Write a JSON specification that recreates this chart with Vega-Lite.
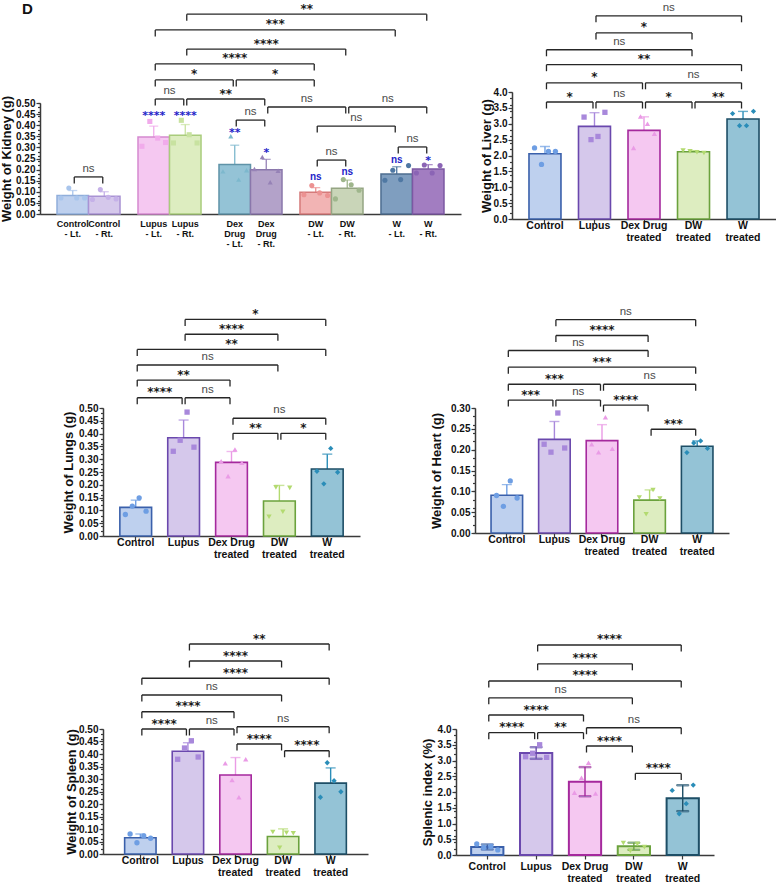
{
  "$schema": "https://vega.github.io/schema/vega-lite/v6.json",
  "background": "white",
  "padding": {"left": 0, "top": 0, "right": 0, "bottom": 0},
  "config": {
    "view": {"stroke": null},
    "font": "Liberation Sans",
    "axis": {
      "grid": false,
      "domainColor": "#3a3a3a",
      "domainWidth": 1.5,
      "tickColor": "#3a3a3a",
      "tickWidth": 1.2,
      "labelFont": "Liberation Sans",
      "labelFontWeight": "bold",
      "labelColor": "#111111",
      "titleFont": "Liberation Sans",
      "titleFontWeight": "bold",
      "titleColor": "#111111"
    },
    "axisY": {"tickSize": 4, "labelFontSize": 10, "labelPadding": 1, "titleFontSize": 13},
    "axisX": {"tickSize": 4, "labelFontSize": 10.5, "labelPadding": 2, "labelLineHeight": 12.5, "labelAlign": "center"}
  },
  "datasets": {
    "kidney": [
      {"g": "Control", "s": "Lt", "rep": 1, "v": 0.072},
      {"g": "Control", "s": "Lt", "rep": 2, "v": 0.117},
      {"g": "Control", "s": "Lt", "rep": 3, "v": 0.072},
      {"g": "Control", "s": "Lt", "rep": 4, "v": 0.072},
      {"g": "Control", "s": "Rt", "rep": 1, "v": 0.065},
      {"g": "Control", "s": "Rt", "rep": 2, "v": 0.11},
      {"g": "Control", "s": "Rt", "rep": 3, "v": 0.075},
      {"g": "Control", "s": "Rt", "rep": 4, "v": 0.068},
      {"g": "Lupus", "s": "Lt", "rep": 1, "v": 0.305},
      {"g": "Lupus", "s": "Lt", "rep": 2, "v": 0.417},
      {"g": "Lupus", "s": "Lt", "rep": 3, "v": 0.342},
      {"g": "Lupus", "s": "Lt", "rep": 4, "v": 0.322},
      {"g": "Lupus", "s": "Rt", "rep": 1, "v": 0.32},
      {"g": "Lupus", "s": "Rt", "rep": 2, "v": 0.422},
      {"g": "Lupus", "s": "Rt", "rep": 3, "v": 0.357},
      {"g": "Lupus", "s": "Rt", "rep": 4, "v": 0.32},
      {"g": "Dex Drug", "s": "Lt", "rep": 1, "v": 0.192},
      {"g": "Dex Drug", "s": "Lt", "rep": 2, "v": 0.35},
      {"g": "Dex Drug", "s": "Lt", "rep": 3, "v": 0.155},
      {"g": "Dex Drug", "s": "Lt", "rep": 4, "v": 0.197},
      {"g": "Dex Drug", "s": "Rt", "rep": 1, "v": 0.203},
      {"g": "Dex Drug", "s": "Rt", "rep": 2, "v": 0.257},
      {"g": "Dex Drug", "s": "Rt", "rep": 3, "v": 0.143},
      {"g": "Dex Drug", "s": "Rt", "rep": 4, "v": 0.195},
      {"g": "DW", "s": "Lt", "rep": 1, "v": 0.087},
      {"g": "DW", "s": "Lt", "rep": 2, "v": 0.128},
      {"g": "DW", "s": "Lt", "rep": 3, "v": 0.095},
      {"g": "DW", "s": "Lt", "rep": 4, "v": 0.083},
      {"g": "DW", "s": "Rt", "rep": 1, "v": 0.068},
      {"g": "DW", "s": "Rt", "rep": 2, "v": 0.155},
      {"g": "DW", "s": "Rt", "rep": 3, "v": 0.132},
      {"g": "DW", "s": "Rt", "rep": 4, "v": 0.107},
      {"g": "W", "s": "Lt", "rep": 1, "v": 0.152},
      {"g": "W", "s": "Lt", "rep": 2, "v": 0.197},
      {"g": "W", "s": "Lt", "rep": 3, "v": 0.155},
      {"g": "W", "s": "Lt", "rep": 4, "v": 0.218},
      {"g": "W", "s": "Rt", "rep": 1, "v": 0.185},
      {"g": "W", "s": "Rt", "rep": 2, "v": 0.221},
      {"g": "W", "s": "Rt", "rep": 3, "v": 0.185},
      {"g": "W", "s": "Rt", "rep": 4, "v": 0.218}
    ],
    "organ": [
      {"o": "liver", "g": "Control", "rep": 1, "v": 2.24},
      {"o": "liver", "g": "Control", "rep": 2, "v": 1.72},
      {"o": "liver", "g": "Control", "rep": 3, "v": 2.13},
      {"o": "liver", "g": "Control", "rep": 4, "v": 2.13},
      {"o": "liver", "g": "Lupus", "rep": 1, "v": 3.21},
      {"o": "liver", "g": "Lupus", "rep": 2, "v": 2.5},
      {"o": "liver", "g": "Lupus", "rep": 3, "v": 2.6},
      {"o": "liver", "g": "Lupus", "rep": 4, "v": 3.36},
      {"o": "liver", "g": "Dex Drug treated", "rep": 1, "v": 2.24},
      {"o": "liver", "g": "Dex Drug treated", "rep": 2, "v": 3.23},
      {"o": "liver", "g": "Dex Drug treated", "rep": 3, "v": 3.0},
      {"o": "liver", "g": "Dex Drug treated", "rep": 4, "v": 2.69},
      {"o": "liver", "g": "DW treated", "rep": 1, "v": 2.16},
      {"o": "liver", "g": "DW treated", "rep": 2, "v": 2.13},
      {"o": "liver", "g": "DW treated", "rep": 3, "v": 2.1},
      {"o": "liver", "g": "DW treated", "rep": 4, "v": 2.08},
      {"o": "liver", "g": "W treated", "rep": 1, "v": 3.32},
      {"o": "liver", "g": "W treated", "rep": 2, "v": 2.94},
      {"o": "liver", "g": "W treated", "rep": 3, "v": 2.94},
      {"o": "liver", "g": "W treated", "rep": 4, "v": 3.39},
      {"o": "lungs", "g": "Control", "rep": 1, "v": 0.084},
      {"o": "lungs", "g": "Control", "rep": 2, "v": 0.117},
      {"o": "lungs", "g": "Control", "rep": 3, "v": 0.149},
      {"o": "lungs", "g": "Control", "rep": 4, "v": 0.097},
      {"o": "lungs", "g": "Lupus", "rep": 1, "v": 0.331},
      {"o": "lungs", "g": "Lupus", "rep": 2, "v": 0.374},
      {"o": "lungs", "g": "Lupus", "rep": 3, "v": 0.484},
      {"o": "lungs", "g": "Lupus", "rep": 4, "v": 0.347},
      {"o": "lungs", "g": "Dex Drug treated", "rep": 1, "v": 0.292},
      {"o": "lungs", "g": "Dex Drug treated", "rep": 2, "v": 0.234},
      {"o": "lungs", "g": "Dex Drug treated", "rep": 3, "v": 0.338},
      {"o": "lungs", "g": "Dex Drug treated", "rep": 4, "v": 0.286},
      {"o": "lungs", "g": "DW treated", "rep": 1, "v": 0.075},
      {"o": "lungs", "g": "DW treated", "rep": 2, "v": 0.19},
      {"o": "lungs", "g": "DW treated", "rep": 3, "v": 0.095},
      {"o": "lungs", "g": "DW treated", "rep": 4, "v": 0.188},
      {"o": "lungs", "g": "W treated", "rep": 1, "v": 0.253},
      {"o": "lungs", "g": "W treated", "rep": 2, "v": 0.204},
      {"o": "lungs", "g": "W treated", "rep": 3, "v": 0.342},
      {"o": "lungs", "g": "W treated", "rep": 4, "v": 0.249},
      {"o": "heart", "g": "Control", "rep": 1, "v": 0.09},
      {"o": "heart", "g": "Control", "rep": 2, "v": 0.064},
      {"o": "heart", "g": "Control", "rep": 3, "v": 0.125},
      {"o": "heart", "g": "Control", "rep": 4, "v": 0.084},
      {"o": "heart", "g": "Lupus", "rep": 1, "v": 0.213},
      {"o": "heart", "g": "Lupus", "rep": 2, "v": 0.194},
      {"o": "heart", "g": "Lupus", "rep": 3, "v": 0.288},
      {"o": "heart", "g": "Lupus", "rep": 4, "v": 0.204},
      {"o": "heart", "g": "Dex Drug treated", "rep": 1, "v": 0.213},
      {"o": "heart", "g": "Dex Drug treated", "rep": 2, "v": 0.194},
      {"o": "heart", "g": "Dex Drug treated", "rep": 3, "v": 0.278},
      {"o": "heart", "g": "Dex Drug treated", "rep": 4, "v": 0.202},
      {"o": "heart", "g": "DW treated", "rep": 1, "v": 0.085},
      {"o": "heart", "g": "DW treated", "rep": 2, "v": 0.045},
      {"o": "heart", "g": "DW treated", "rep": 3, "v": 0.103},
      {"o": "heart", "g": "DW treated", "rep": 4, "v": 0.083},
      {"o": "heart", "g": "W treated", "rep": 1, "v": 0.193},
      {"o": "heart", "g": "W treated", "rep": 2, "v": 0.216},
      {"o": "heart", "g": "W treated", "rep": 3, "v": 0.221},
      {"o": "heart", "g": "W treated", "rep": 4, "v": 0.203},
      {"o": "spleen", "g": "Control", "rep": 1, "v": 0.08},
      {"o": "spleen", "g": "Control", "rep": 2, "v": 0.045},
      {"o": "spleen", "g": "Control", "rep": 3, "v": 0.072},
      {"o": "spleen", "g": "Control", "rep": 4, "v": 0.063},
      {"o": "spleen", "g": "Lupus", "rep": 1, "v": 0.379},
      {"o": "spleen", "g": "Lupus", "rep": 2, "v": 0.424},
      {"o": "spleen", "g": "Lupus", "rep": 3, "v": 0.453},
      {"o": "spleen", "g": "Lupus", "rep": 4, "v": 0.388},
      {"o": "spleen", "g": "Dex Drug treated", "rep": 1, "v": 0.363},
      {"o": "spleen", "g": "Dex Drug treated", "rep": 2, "v": 0.296},
      {"o": "spleen", "g": "Dex Drug treated", "rep": 3, "v": 0.227},
      {"o": "spleen", "g": "Dex Drug treated", "rep": 4, "v": 0.379},
      {"o": "spleen", "g": "DW treated", "rep": 1, "v": 0.088},
      {"o": "spleen", "g": "DW treated", "rep": 2, "v": 0.025},
      {"o": "spleen", "g": "DW treated", "rep": 3, "v": 0.085},
      {"o": "spleen", "g": "DW treated", "rep": 4, "v": 0.083},
      {"o": "spleen", "g": "W treated", "rep": 1, "v": 0.227},
      {"o": "spleen", "g": "W treated", "rep": 2, "v": 0.365},
      {"o": "spleen", "g": "W treated", "rep": 3, "v": 0.293},
      {"o": "spleen", "g": "W treated", "rep": 4, "v": 0.249},
      {"o": "index", "g": "Control", "rep": 1, "v": 0.35},
      {"o": "index", "g": "Control", "rep": 2, "v": 0.24},
      {"o": "index", "g": "Control", "rep": 3, "v": 0.27},
      {"o": "index", "g": "Control", "rep": 4, "v": 0.16},
      {"o": "index", "g": "Lupus", "rep": 1, "v": 3.12},
      {"o": "index", "g": "Lupus", "rep": 2, "v": 3.23},
      {"o": "index", "g": "Lupus", "rep": 3, "v": 3.5},
      {"o": "index", "g": "Lupus", "rep": 4, "v": 3.1},
      {"o": "index", "g": "Dex Drug treated", "rep": 1, "v": 1.98},
      {"o": "index", "g": "Dex Drug treated", "rep": 2, "v": 2.45},
      {"o": "index", "g": "Dex Drug treated", "rep": 3, "v": 2.93},
      {"o": "index", "g": "Dex Drug treated", "rep": 4, "v": 1.95},
      {"o": "index", "g": "DW treated", "rep": 1, "v": 0.38},
      {"o": "index", "g": "DW treated", "rep": 2, "v": 0.13},
      {"o": "index", "g": "DW treated", "rep": 3, "v": 0.35},
      {"o": "index", "g": "DW treated", "rep": 4, "v": 0.25},
      {"o": "index", "g": "W treated", "rep": 1, "v": 2.05},
      {"o": "index", "g": "W treated", "rep": 2, "v": 1.31},
      {"o": "index", "g": "W treated", "rep": 3, "v": 1.63},
      {"o": "index", "g": "W treated", "rep": 4, "v": 2.22}
    ],
    "kbr": [
      {"g1": "Control", "s1": "Lt", "g2": "Control", "s2": "Rt", "lvl": 0.167, "lab": "ns"},
      {"g1": "Lupus", "s1": "Lt", "g2": "Lupus", "s2": "Rt", "lvl": 0.518, "lab": "ns"},
      {"g1": "Lupus", "s1": "Rt", "g2": "Dex Drug", "s2": "Rt", "lvl": 0.518, "lab": "**"},
      {"g1": "Dex Drug", "s1": "Lt", "g2": "Dex Drug", "s2": "Rt", "lvl": 0.423, "lab": "ns"},
      {"g1": "Lupus", "s1": "Lt", "g2": "Dex Drug", "s2": "Lt", "lvl": 0.604, "lab": "*"},
      {"g1": "Dex Drug", "s1": "Lt", "g2": "DW", "s2": "Lt", "lvl": 0.604, "lab": "*"},
      {"g1": "Lupus", "s1": "Lt", "g2": "DW", "s2": "Lt", "lvl": 0.676, "lab": "****"},
      {"g1": "Lupus", "s1": "Rt", "g2": "DW", "s2": "Rt", "lvl": 0.743, "lab": "****"},
      {"g1": "Lupus", "s1": "Lt", "g2": "W", "s2": "Lt", "lvl": 0.829, "lab": "***"},
      {"g1": "Lupus", "s1": "Rt", "g2": "W", "s2": "Rt", "lvl": 0.9, "lab": "**"},
      {"g1": "Dex Drug", "s1": "Rt", "g2": "DW", "s2": "Rt", "lvl": 0.482, "lab": "ns"},
      {"g1": "DW", "s1": "Rt", "g2": "W", "s2": "Rt", "lvl": 0.482, "lab": "ns"},
      {"g1": "DW", "s1": "Lt", "g2": "W", "s2": "Lt", "lvl": 0.396, "lab": "ns"},
      {"g1": "DW", "s1": "Lt", "g2": "DW", "s2": "Rt", "lvl": 0.243, "lab": "ns"},
      {"g1": "W", "s1": "Lt", "g2": "W", "s2": "Rt", "lvl": 0.302, "lab": "ns"}
    ],
    "ksig": [
      {"g": "Lupus", "s": "Lt", "lvl": 0.455, "lab": "****"},
      {"g": "Lupus", "s": "Rt", "lvl": 0.455, "lab": "****"},
      {"g": "Dex Drug", "s": "Lt", "lvl": 0.378, "lab": "**"},
      {"g": "Dex Drug", "s": "Rt", "lvl": 0.288, "lab": "*"},
      {"g": "DW", "s": "Lt", "lvl": 0.167, "lab": "ns"},
      {"g": "DW", "s": "Rt", "lvl": 0.189, "lab": "ns"},
      {"g": "W", "s": "Lt", "lvl": 0.243, "lab": "ns"},
      {"g": "W", "s": "Rt", "lvl": 0.252, "lab": "*"}
    ],
    "br": [
      {"o": "liver", "g1": "Control", "g2": "Lupus", "lvl": 3.685, "lab": "*"},
      {"o": "liver", "g1": "Lupus", "g2": "Dex Drug treated", "lvl": 3.685, "lab": "ns"},
      {"o": "liver", "g1": "Dex Drug treated", "g2": "DW treated", "lvl": 3.685, "lab": "*"},
      {"o": "liver", "g1": "DW treated", "g2": "W treated", "lvl": 3.685, "lab": "**"},
      {"o": "liver", "g1": "Control", "g2": "Dex Drug treated", "lvl": 4.29, "lab": "*"},
      {"o": "liver", "g1": "Dex Drug treated", "g2": "W treated", "lvl": 4.29, "lab": "ns"},
      {"o": "liver", "g1": "Control", "g2": "W treated", "lvl": 4.86, "lab": "**"},
      {"o": "liver", "g1": "Control", "g2": "DW treated", "lvl": 5.33, "lab": "ns"},
      {"o": "liver", "g1": "Lupus", "g2": "DW treated", "lvl": 5.86, "lab": "*"},
      {"o": "liver", "g1": "Lupus", "g2": "W treated", "lvl": 6.4, "lab": "ns"},
      {"o": "lungs", "g1": "Control", "g2": "Lupus", "lvl": 0.54, "lab": "****"},
      {"o": "lungs", "g1": "Lupus", "g2": "Dex Drug treated", "lvl": 0.54, "lab": "ns"},
      {"o": "lungs", "g1": "Control", "g2": "Dex Drug treated", "lvl": 0.609, "lab": "**"},
      {"o": "lungs", "g1": "Control", "g2": "DW treated", "lvl": 0.668, "lab": "ns"},
      {"o": "lungs", "g1": "Control", "g2": "W treated", "lvl": 0.729, "lab": "**"},
      {"o": "lungs", "g1": "Lupus", "g2": "DW treated", "lvl": 0.788, "lab": "****"},
      {"o": "lungs", "g1": "Lupus", "g2": "W treated", "lvl": 0.846, "lab": "*"},
      {"o": "lungs", "g1": "Dex Drug treated", "g2": "W treated", "lvl": 0.46, "lab": "ns"},
      {"o": "lungs", "g1": "Dex Drug treated", "g2": "DW treated", "lvl": 0.401, "lab": "**"},
      {"o": "lungs", "g1": "DW treated", "g2": "W treated", "lvl": 0.401, "lab": "*"},
      {"o": "heart", "g1": "Control", "g2": "Lupus", "lvl": 0.319, "lab": "***"},
      {"o": "heart", "g1": "Lupus", "g2": "Dex Drug treated", "lvl": 0.319, "lab": "ns"},
      {"o": "heart", "g1": "Dex Drug treated", "g2": "DW treated", "lvl": 0.307, "lab": "****"},
      {"o": "heart", "g1": "DW treated", "g2": "W treated", "lvl": 0.249, "lab": "***"},
      {"o": "heart", "g1": "Control", "g2": "Dex Drug treated", "lvl": 0.357, "lab": "***"},
      {"o": "heart", "g1": "Dex Drug treated", "g2": "W treated", "lvl": 0.357, "lab": "ns"},
      {"o": "heart", "g1": "Control", "g2": "W treated", "lvl": 0.398, "lab": "***"},
      {"o": "heart", "g1": "Control", "g2": "DW treated", "lvl": 0.438, "lab": "ns"},
      {"o": "heart", "g1": "Lupus", "g2": "DW treated", "lvl": 0.474, "lab": "****"},
      {"o": "heart", "g1": "Lupus", "g2": "W treated", "lvl": 0.512, "lab": "ns"},
      {"o": "spleen", "g1": "Control", "g2": "Lupus", "lvl": 0.5, "lab": "****"},
      {"o": "spleen", "g1": "Lupus", "g2": "Dex Drug treated", "lvl": 0.5, "lab": "ns"},
      {"o": "spleen", "g1": "Dex Drug treated", "g2": "W treated", "lvl": 0.509, "lab": "ns"},
      {"o": "spleen", "g1": "Dex Drug treated", "g2": "DW treated", "lvl": 0.44, "lab": "****"},
      {"o": "spleen", "g1": "DW treated", "g2": "W treated", "lvl": 0.413, "lab": "****"},
      {"o": "spleen", "g1": "Control", "g2": "Dex Drug treated", "lvl": 0.569, "lab": "****"},
      {"o": "spleen", "g1": "Control", "g2": "DW treated", "lvl": 0.636, "lab": "ns"},
      {"o": "spleen", "g1": "Control", "g2": "W treated", "lvl": 0.703, "lab": "****"},
      {"o": "spleen", "g1": "Lupus", "g2": "DW treated", "lvl": 0.772, "lab": "****"},
      {"o": "spleen", "g1": "Lupus", "g2": "W treated", "lvl": 0.84, "lab": "**"},
      {"o": "index", "g1": "Control", "g2": "Lupus", "lvl": 3.883, "lab": "****"},
      {"o": "index", "g1": "Lupus", "g2": "Dex Drug treated", "lvl": 3.883, "lab": "**"},
      {"o": "index", "g1": "Dex Drug treated", "g2": "W treated", "lvl": 4.04, "lab": "ns"},
      {"o": "index", "g1": "Dex Drug treated", "g2": "DW treated", "lvl": 3.46, "lab": "****"},
      {"o": "index", "g1": "DW treated", "g2": "W treated", "lvl": 2.59, "lab": "****"},
      {"o": "index", "g1": "Control", "g2": "Dex Drug treated", "lvl": 4.444, "lab": "****"},
      {"o": "index", "g1": "Control", "g2": "DW treated", "lvl": 4.99, "lab": "ns"},
      {"o": "index", "g1": "Control", "g2": "W treated", "lvl": 5.524, "lab": "****"},
      {"o": "index", "g1": "Lupus", "g2": "DW treated", "lvl": 6.07, "lab": "****"},
      {"o": "index", "g1": "Lupus", "g2": "W treated", "lvl": 6.667, "lab": "****"}
    ]
  },
  "spacing": 72,
  "resolve": {"scale": {"fill": "independent", "stroke": "independent", "color": "independent", "shape": "independent", "xOffset": "independent"}},
  "vconcat": [
    {
      "spacing": 56,
      "resolve": {"scale": {"fill": "independent", "stroke": "independent", "color": "independent", "shape": "independent", "xOffset": "independent"}},
      "vconcat": [
        {
          "spacing": 19,
          "resolve": {"scale": {"fill": "independent", "stroke": "independent", "color": "independent", "shape": "independent", "xOffset": "independent"}},
          "hconcat": [
            {
              "spacing": 0,
              "resolve": {"scale": {"fill": "independent", "stroke": "independent", "color": "independent", "shape": "independent", "xOffset": "independent"}},
              "vconcat": [
                {"width": 1, "height": 1, "data": {"values": []}, "mark": "point"},
                {
                  "name": "kid",
                  "width": 421,
                  "height": 111,
                  "title": {"text": "D", "anchor": "start", "frame": "bounds", "dx": 22, "offset": -14, "fontSize": 15, "fontWeight": "bold", "font": "Liberation Sans", "color": "#111111"},
                  "data": {"name": "kidney"},
                  "transform": [
                    {"calculate": "datum.g + ' - ' + datum.s + '.'", "as": "bar"},
                    {"calculate": "datum.s + datum.rep", "as": "slot"}
                  ],
                  "layer": [
                    {
                      "mark": {"type": "errorbar", "extent": "stdev", "ticks": {"size": 9}, "thickness": 1.3},
                      "encoding": {
                        "x": {"field": "g", "type": "nominal", "scale": {"domain": ["Control", "Lupus", "Dex Drug", "DW", "W"], "paddingInner": 0.222, "paddingOuter": 0.21}},
                        "xOffset": {"field": "s", "type": "nominal"},
                        "y": {"field": "v", "type": "quantitative", "scale": {"domain": [0, 0.5], "nice": false}, "axis": null},
                        "color": {"field": "bar", "type": "nominal", "legend": null, "scale": {"domain": ["Control - Lt.", "Control - Rt.", "Lupus - Lt.", "Lupus - Rt.", "Dex Drug - Lt.", "Dex Drug - Rt.", "DW - Lt.", "DW - Rt.", "W - Lt.", "W - Rt."], "range": ["#a9c5ec", "#c5b1e8", "#f1abeb", "#c8e2a0", "#7db8cd", "#9682b6", "#ec9292", "#9fb68c", "#4f78a3", "#8b64b5"]}}
                      }
                    },
                    {
                      "mark": {"type": "bar", "strokeWidth": 1.5},
                      "encoding": {
                        "x": {"field": "g", "type": "nominal", "scale": {"domain": ["Control", "Lupus", "Dex Drug", "DW", "W"], "paddingInner": 0.222, "paddingOuter": 0.21}, "axis": {"title": null, "labels": false, "ticks": false}},
                        "xOffset": {"field": "s", "type": "nominal"},
                        "y": {"aggregate": "mean", "field": "v", "type": "quantitative", "scale": {"domain": [0, 0.5], "nice": false}, "axis": {"title": "Weight of Kidney (g)", "orient": "left", "tickCount": 10, "format": ".2f", "titlePadding": 2.5}},
                        "fill": {"field": "bar", "type": "nominal", "legend": null, "scale": {"domain": ["Control - Lt.", "Control - Rt.", "Lupus - Lt.", "Lupus - Rt.", "Dex Drug - Lt.", "Dex Drug - Rt.", "DW - Lt.", "DW - Rt.", "W - Lt.", "W - Rt."], "range": ["#bed0ee", "#d5c8eb", "#f5c8f1", "#ddedc0", "#94c3d6", "#b3a2c9", "#f2b4b4", "#c9d5b8", "#7f9ebf", "#a27dc1"]}},
                        "stroke": {"field": "bar", "type": "nominal", "legend": null, "scale": {"domain": ["Control - Lt.", "Control - Rt.", "Lupus - Lt.", "Lupus - Rt.", "Dex Drug - Lt.", "Dex Drug - Rt.", "DW - Lt.", "DW - Rt.", "W - Lt.", "W - Rt."], "range": ["#90aedb", "#a993d4", "#d589d0", "#a9cc7c", "#5f93a8", "#8a77ab", "#d57a7a", "#95a583", "#4d6d90", "#7c58a3"]}}
                      }
                    },
                    {
                      "mark": {"type": "point", "filled": true, "size": 26, "opacity": 1},
                      "encoding": {
                        "x": {"field": "g", "type": "nominal", "scale": {"domain": ["Control", "Lupus", "Dex Drug", "DW", "W"], "paddingInner": 0.222, "paddingOuter": 0.21}},
                        "xOffset": {"field": "slot", "type": "nominal"},
                        "y": {"field": "v", "type": "quantitative", "scale": {"domain": [0, 0.5], "nice": false}, "axis": {"orient": "left", "tickCount": 20, "labels": false, "domain": false, "tickSize": 2.5, "title": null}},
                        "color": {"field": "bar", "type": "nominal", "legend": null, "scale": {"domain": ["Control - Lt.", "Control - Rt.", "Lupus - Lt.", "Lupus - Rt.", "Dex Drug - Lt.", "Dex Drug - Rt.", "DW - Lt.", "DW - Rt.", "W - Lt.", "W - Rt."], "range": ["#a9c5ec", "#c5b1e8", "#f1abeb", "#c8e2a0", "#7db8cd", "#9682b6", "#ec9292", "#9fb68c", "#4f78a3", "#8b64b5"]}},
                        "shape": {"field": "g", "type": "nominal", "legend": null, "scale": {"domain": ["Control", "Lupus", "Dex Drug", "DW", "W"], "range": ["circle", "square", "triangle-up", "circle", "circle"]}}
                      }
                    },
                    {
                      "transform": [
                        {"aggregate": [{"op": "count", "as": "n"}], "groupby": ["g", "s"]},
                        {"calculate": "replace(datum.g, ' ', '\\n') + '\\n- ' + datum.s + '.'", "as": "lab"}
                      ],
                      "mark": {"type": "text", "baseline": "top", "align": "center", "dy": 6, "fontSize": 9, "fontWeight": "bold", "lineBreak": "\n", "lineHeight": 10, "color": "#111111"},
                      "encoding": {
                        "x": {"field": "g", "type": "nominal", "scale": {"domain": ["Control", "Lupus", "Dex Drug", "DW", "W"], "paddingInner": 0.222, "paddingOuter": 0.21}},
                        "xOffset": {"field": "s", "type": "nominal"},
                        "y": {"datum": 0, "type": "quantitative", "scale": {"domain": [0, 0.5], "nice": false}, "axis": null},
                        "text": {"field": "lab", "type": "nominal"}
                      }
                    },
                    {
                      "data": {"name": "kbr"},
                      "mark": {"type": "rule", "color": "#262626", "strokeWidth": 1.3,
                        "x": {"expr": "scale('kid_x', datum.g1) + bandwidth('kid_x') * (datum.s1 == 'Lt' ? 0.25 : 0.75) + 1.5"},
                        "x2": {"expr": "scale('kid_x', datum.g2) + bandwidth('kid_x') * (datum.s2 == 'Lt' ? 0.25 : 0.75) - 1.5"}},
                      "encoding": {"y": {"field": "lvl", "type": "quantitative", "scale": {"domain": [0, 0.5], "nice": false}, "axis": null}}
                    },
                    {
                      "data": {"name": "kbr"},
                      "mark": {"type": "rule", "color": "#262626", "strokeWidth": 1.3, "y2Offset": 6.5,
                        "x": {"expr": "scale('kid_x', datum.g1) + bandwidth('kid_x') * (datum.s1 == 'Lt' ? 0.25 : 0.75) + 1.5"}},
                      "encoding": {"y": {"field": "lvl", "type": "quantitative", "scale": {"domain": [0, 0.5], "nice": false}, "axis": null}, "y2": {"field": "lvl"}}
                    },
                    {
                      "data": {"name": "kbr"},
                      "mark": {"type": "rule", "color": "#262626", "strokeWidth": 1.3, "y2Offset": 6.5,
                        "x": {"expr": "scale('kid_x', datum.g2) + bandwidth('kid_x') * (datum.s2 == 'Lt' ? 0.25 : 0.75) - 1.5"}},
                      "encoding": {"y": {"field": "lvl", "type": "quantitative", "scale": {"domain": [0, 0.5], "nice": false}, "axis": null}, "y2": {"field": "lvl"}}
                    },
                    {
                      "data": {"name": "kbr"},
                      "transform": [{"filter": "datum.lab == 'ns'"}],
                      "mark": {"type": "text", "baseline": "alphabetic", "dy": -5, "fontSize": 11.5, "color": "#4a4a4a",
                        "x": {"expr": "(scale('kid_x', datum.g1) + scale('kid_x', datum.g2) + bandwidth('kid_x') * ((datum.s1 == 'Lt' ? 0.25 : 0.75) + (datum.s2 == 'Lt' ? 0.25 : 0.75))) / 2"}},
                      "encoding": {"y": {"field": "lvl", "type": "quantitative", "scale": {"domain": [0, 0.5], "nice": false}, "axis": null}, "text": {"field": "lab"}}
                    },
                    {
                      "data": {"name": "kbr"},
                      "transform": [{"filter": "datum.lab != 'ns'"}],
                      "mark": {"type": "text", "baseline": "alphabetic", "dy": -1.5, "font": "DejaVu Sans", "fontWeight": "bold", "fontSize": 12, "color": "#1a1a1a",
                        "x": {"expr": "(scale('kid_x', datum.g1) + scale('kid_x', datum.g2) + bandwidth('kid_x') * ((datum.s1 == 'Lt' ? 0.25 : 0.75) + (datum.s2 == 'Lt' ? 0.25 : 0.75))) / 2"}},
                      "encoding": {"y": {"field": "lvl", "type": "quantitative", "scale": {"domain": [0, 0.5], "nice": false}, "axis": null}, "text": {"field": "lab"}}
                    },
                    {
                      "data": {"name": "ksig"},
                      "transform": [{"filter": "datum.lab != 'ns'"}],
                      "mark": {"type": "text", "baseline": "alphabetic", "dy": 6, "font": "DejaVu Sans", "fontWeight": "bold", "fontSize": 11, "color": "#2323c8"},
                      "encoding": {
                        "x": {"field": "g", "type": "nominal", "scale": {"domain": ["Control", "Lupus", "Dex Drug", "DW", "W"], "paddingInner": 0.222, "paddingOuter": 0.21}},
                        "xOffset": {"field": "s", "type": "nominal"},
                        "y": {"field": "lvl", "type": "quantitative", "scale": {"domain": [0, 0.5], "nice": false}, "axis": null},
                        "text": {"field": "lab"}
                      }
                    },
                    {
                      "data": {"name": "ksig"},
                      "transform": [{"filter": "datum.lab == 'ns'"}],
                      "mark": {"type": "text", "baseline": "alphabetic", "dy": 3, "fontWeight": "bold", "fontSize": 10, "color": "#2323c8"},
                      "encoding": {
                        "x": {"field": "g", "type": "nominal", "scale": {"domain": ["Control", "Lupus", "Dex Drug", "DW", "W"], "paddingInner": 0.222, "paddingOuter": 0.21}},
                        "xOffset": {"field": "s", "type": "nominal"},
                        "y": {"field": "lvl", "type": "quantitative", "scale": {"domain": [0, 0.5], "nice": false}, "axis": null},
                        "text": {"field": "lab"}
                      }
                    }
                  ],
                  "resolve": {"scale": {"xOffset": "independent"}, "axis": {"y": "independent"}}
                }
              ]
            },
            {
              "spacing": 0,
              "resolve": {"scale": {"fill": "independent", "stroke": "independent", "color": "independent", "shape": "independent", "xOffset": "independent"}},
              "vconcat": [
                {"width": 1, "height": 1, "data": {"values": []}, "mark": "point"},
                {
                  "name": "liv",
                  "width": 264,
                  "height": 127,
                  "data": {"name": "organ"},
                  "transform": [{"filter": "datum.o == 'liver'"}],
                  "layer": [
                    {
                      "mark": {"type": "errorbar", "extent": "stdev", "ticks": {"size": 10}, "thickness": 1.4},
                      "encoding": {
                        "x": {"field": "g", "type": "nominal", "scale": {"domain": ["Control", "Lupus", "Dex Drug treated", "DW treated", "W treated"], "paddingInner": 0.354, "paddingOuter": 0.343}},
                        "y": {"field": "v", "type": "quantitative", "scale": {"domain": [0, 4], "nice": false}, "axis": null},
                        "color": {"field": "g", "type": "nominal", "legend": null, "scale": {"domain": ["Control", "Lupus", "Dex Drug treated", "DW treated", "W treated"], "range": ["#6e9ee3", "#a888db", "#ea9be6", "#b3da70", "#2a8db8"]}}
                      }
                    },
                    {
                      "mark": {"type": "bar", "strokeWidth": 1.6},
                      "encoding": {
                        "x": {"field": "g", "type": "nominal", "scale": {"domain": ["Control", "Lupus", "Dex Drug treated", "DW treated", "W treated"], "paddingInner": 0.354, "paddingOuter": 0.343}, "axis": {"title": null, "labelAngle": 0, "labelAlign": "center", "labelOverlap": false, "labelExpr": "indexof(datum.label, ' treated') > 0 ? [replace(datum.label, ' treated', ''), 'treated'] : datum.label"}},
                        "y": {"aggregate": "mean", "field": "v", "type": "quantitative", "scale": {"domain": [0, 4], "nice": false}, "axis": {"title": "Weight of Liver (g)", "orient": "left", "tickCount": 8, "format": ".1f", "titlePadding": 0}},
                        "fill": {"field": "g", "type": "nominal", "legend": null, "scale": {"domain": ["Control", "Lupus", "Dex Drug treated", "DW treated", "W treated"], "range": ["#bed0ee", "#d5c8eb", "#f5c8f1", "#ddedc0", "#94c3d6"]}},
                        "stroke": {"field": "g", "type": "nominal", "legend": null, "scale": {"domain": ["Control", "Lupus", "Dex Drug treated", "DW treated", "W treated"], "range": ["#3a60ab", "#6a48ad", "#a5299d", "#6ba23d", "#1d4e66"]}}
                      }
                    },
                    {
                      "mark": {"type": "point", "filled": true, "size": 28, "opacity": 1},
                      "encoding": {
                        "x": {"field": "g", "type": "nominal", "scale": {"domain": ["Control", "Lupus", "Dex Drug treated", "DW treated", "W treated"], "paddingInner": 0.354, "paddingOuter": 0.343}},
                        "xOffset": {"field": "rep", "type": "ordinal", "scale": {"type": "point", "padding": 0.8}},
                        "y": {"field": "v", "type": "quantitative", "scale": {"domain": [0, 4], "nice": false}, "axis": {"orient": "left", "tickCount": 16, "labels": false, "domain": false, "tickSize": 2.5, "title": null}},
                        "color": {"field": "g", "type": "nominal", "legend": null, "scale": {"domain": ["Control", "Lupus", "Dex Drug treated", "DW treated", "W treated"], "range": ["#6e9ee3", "#a888db", "#ea9be6", "#b3da70", "#2a8db8"]}},
                        "shape": {"field": "g", "type": "nominal", "legend": null, "scale": {"domain": ["Control", "Lupus", "Dex Drug treated", "DW treated", "W treated"], "range": ["circle", "square", "triangle-up", "triangle-down", "diamond"]}}
                      }
                    },
                    {
                      "data": {"name": "br"},
                      "transform": [{"filter": "datum.o == 'liver'"}],
                      "mark": {"type": "rule", "color": "#262626", "strokeWidth": 1.3,
                        "x": {"expr": "scale('liv_x', datum.g1) + bandwidth('liv_x') / 2 + 1.5"},
                        "x2": {"expr": "scale('liv_x', datum.g2) + bandwidth('liv_x') / 2 - 1.5"}},
                      "encoding": {"y": {"field": "lvl", "type": "quantitative", "scale": {"domain": [0, 4], "nice": false}, "axis": null}}
                    },
                    {
                      "data": {"name": "br"},
                      "transform": [{"filter": "datum.o == 'liver'"}],
                      "mark": {"type": "rule", "color": "#262626", "strokeWidth": 1.3, "y2Offset": 6.5,
                        "x": {"expr": "scale('liv_x', datum.g1) + bandwidth('liv_x') / 2 + 1.5"}},
                      "encoding": {"y": {"field": "lvl", "type": "quantitative", "scale": {"domain": [0, 4], "nice": false}, "axis": null}, "y2": {"field": "lvl"}}
                    },
                    {
                      "data": {"name": "br"},
                      "transform": [{"filter": "datum.o == 'liver'"}],
                      "mark": {"type": "rule", "color": "#262626", "strokeWidth": 1.3, "y2Offset": 6.5,
                        "x": {"expr": "scale('liv_x', datum.g2) + bandwidth('liv_x') / 2 - 1.5"}},
                      "encoding": {"y": {"field": "lvl", "type": "quantitative", "scale": {"domain": [0, 4], "nice": false}, "axis": null}, "y2": {"field": "lvl"}}
                    },
                    {
                      "data": {"name": "br"},
                      "transform": [{"filter": "datum.o == 'liver' && datum.lab == 'ns'"}],
                      "mark": {"type": "text", "baseline": "alphabetic", "dy": -5, "fontSize": 11.5, "color": "#4a4a4a",
                        "x": {"expr": "(scale('liv_x', datum.g1) + scale('liv_x', datum.g2) + bandwidth('liv_x')) / 2"}},
                      "encoding": {"y": {"field": "lvl", "type": "quantitative", "scale": {"domain": [0, 4], "nice": false}, "axis": null}, "text": {"field": "lab"}}
                    },
                    {
                      "data": {"name": "br"},
                      "transform": [{"filter": "datum.o == 'liver' && datum.lab != 'ns'"}],
                      "mark": {"type": "text", "baseline": "alphabetic", "dy": -1.5, "font": "DejaVu Sans", "fontWeight": "bold", "fontSize": 12, "color": "#1a1a1a",
                        "x": {"expr": "(scale('liv_x', datum.g1) + scale('liv_x', datum.g2) + bandwidth('liv_x')) / 2"}},
                      "encoding": {"y": {"field": "lvl", "type": "quantitative", "scale": {"domain": [0, 4], "nice": false}, "axis": null}, "text": {"field": "lab"}}
                    }
                  ],
                  "resolve": {"scale": {"xOffset": "independent"}, "axis": {"y": "independent"}}
                }
              ]
            }
          ]
        },
        {
          "spacing": 70,
          "resolve": {"scale": {"fill": "independent", "stroke": "independent", "color": "independent", "shape": "independent", "xOffset": "independent"}},
          "hconcat": [
            {
              "spacing": 21,
              "resolve": {"scale": {"fill": "independent", "stroke": "independent", "color": "independent", "shape": "independent", "xOffset": "independent"}},
              "hconcat": [
                {"width": 1, "height": 1, "data": {"values": []}, "mark": "point"},
                {
                  "name": "lun",
                  "width": 257,
                  "height": 128,
                  "data": {"name": "organ"},
                  "transform": [{"filter": "datum.o == 'lungs'"}],
                  "layer": [
                    {
                      "mark": {"type": "errorbar", "extent": "stdev", "ticks": {"size": 10}, "thickness": 1.4},
                      "encoding": {
                        "x": {"field": "g", "type": "nominal", "scale": {"domain": ["Control", "Lupus", "Dex Drug treated", "DW treated", "W treated"], "paddingInner": 0.337, "paddingOuter": 0.352}},
                        "y": {"field": "v", "type": "quantitative", "scale": {"domain": [0, 0.5], "nice": false}, "axis": null},
                        "color": {"field": "g", "type": "nominal", "legend": null, "scale": {"domain": ["Control", "Lupus", "Dex Drug treated", "DW treated", "W treated"], "range": ["#6e9ee3", "#a888db", "#ea9be6", "#b3da70", "#2a8db8"]}}
                      }
                    },
                    {
                      "mark": {"type": "bar", "strokeWidth": 1.6},
                      "encoding": {
                        "x": {"field": "g", "type": "nominal", "scale": {"domain": ["Control", "Lupus", "Dex Drug treated", "DW treated", "W treated"], "paddingInner": 0.337, "paddingOuter": 0.352}, "axis": {"title": null, "labelAngle": 0, "labelAlign": "center", "labelOverlap": false, "labelExpr": "indexof(datum.label, ' treated') > 0 ? [replace(datum.label, ' treated', ''), 'treated'] : datum.label"}},
                        "y": {"aggregate": "mean", "field": "v", "type": "quantitative", "scale": {"domain": [0, 0.5], "nice": false}, "axis": {"title": "Weight of Lungs (g)", "orient": "left", "tickCount": 10, "format": ".2f", "titlePadding": 3}},
                        "fill": {"field": "g", "type": "nominal", "legend": null, "scale": {"domain": ["Control", "Lupus", "Dex Drug treated", "DW treated", "W treated"], "range": ["#bed0ee", "#d5c8eb", "#f5c8f1", "#ddedc0", "#94c3d6"]}},
                        "stroke": {"field": "g", "type": "nominal", "legend": null, "scale": {"domain": ["Control", "Lupus", "Dex Drug treated", "DW treated", "W treated"], "range": ["#3a60ab", "#6a48ad", "#a5299d", "#6ba23d", "#1d4e66"]}}
                      }
                    },
                    {
                      "mark": {"type": "point", "filled": true, "size": 28, "opacity": 1},
                      "encoding": {
                        "x": {"field": "g", "type": "nominal", "scale": {"domain": ["Control", "Lupus", "Dex Drug treated", "DW treated", "W treated"], "paddingInner": 0.337, "paddingOuter": 0.352}},
                        "xOffset": {"field": "rep", "type": "ordinal", "scale": {"type": "point", "padding": 0.8}},
                        "y": {"field": "v", "type": "quantitative", "scale": {"domain": [0, 0.5], "nice": false}, "axis": {"orient": "left", "tickCount": 20, "labels": false, "domain": false, "tickSize": 2.5, "title": null}},
                        "color": {"field": "g", "type": "nominal", "legend": null, "scale": {"domain": ["Control", "Lupus", "Dex Drug treated", "DW treated", "W treated"], "range": ["#6e9ee3", "#a888db", "#ea9be6", "#b3da70", "#2a8db8"]}},
                        "shape": {"field": "g", "type": "nominal", "legend": null, "scale": {"domain": ["Control", "Lupus", "Dex Drug treated", "DW treated", "W treated"], "range": ["circle", "square", "triangle-up", "triangle-down", "diamond"]}}
                      }
                    },
                    {
                      "data": {"name": "br"},
                      "transform": [{"filter": "datum.o == 'lungs'"}],
                      "mark": {"type": "rule", "color": "#262626", "strokeWidth": 1.3,
                        "x": {"expr": "scale('lun_x', datum.g1) + bandwidth('lun_x') / 2 + 1.5"},
                        "x2": {"expr": "scale('lun_x', datum.g2) + bandwidth('lun_x') / 2 - 1.5"}},
                      "encoding": {"y": {"field": "lvl", "type": "quantitative", "scale": {"domain": [0, 0.5], "nice": false}, "axis": null}}
                    },
                    {
                      "data": {"name": "br"},
                      "transform": [{"filter": "datum.o == 'lungs'"}],
                      "mark": {"type": "rule", "color": "#262626", "strokeWidth": 1.3, "y2Offset": 6.5,
                        "x": {"expr": "scale('lun_x', datum.g1) + bandwidth('lun_x') / 2 + 1.5"}},
                      "encoding": {"y": {"field": "lvl", "type": "quantitative", "scale": {"domain": [0, 0.5], "nice": false}, "axis": null}, "y2": {"field": "lvl"}}
                    },
                    {
                      "data": {"name": "br"},
                      "transform": [{"filter": "datum.o == 'lungs'"}],
                      "mark": {"type": "rule", "color": "#262626", "strokeWidth": 1.3, "y2Offset": 6.5,
                        "x": {"expr": "scale('lun_x', datum.g2) + bandwidth('lun_x') / 2 - 1.5"}},
                      "encoding": {"y": {"field": "lvl", "type": "quantitative", "scale": {"domain": [0, 0.5], "nice": false}, "axis": null}, "y2": {"field": "lvl"}}
                    },
                    {
                      "data": {"name": "br"},
                      "transform": [{"filter": "datum.o == 'lungs' && datum.lab == 'ns'"}],
                      "mark": {"type": "text", "baseline": "alphabetic", "dy": -5, "fontSize": 11.5, "color": "#4a4a4a",
                        "x": {"expr": "(scale('lun_x', datum.g1) + scale('lun_x', datum.g2) + bandwidth('lun_x')) / 2"}},
                      "encoding": {"y": {"field": "lvl", "type": "quantitative", "scale": {"domain": [0, 0.5], "nice": false}, "axis": null}, "text": {"field": "lab"}}
                    },
                    {
                      "data": {"name": "br"},
                      "transform": [{"filter": "datum.o == 'lungs' && datum.lab != 'ns'"}],
                      "mark": {"type": "text", "baseline": "alphabetic", "dy": -1.5, "font": "DejaVu Sans", "fontWeight": "bold", "fontSize": 12, "color": "#1a1a1a",
                        "x": {"expr": "(scale('lun_x', datum.g1) + scale('lun_x', datum.g2) + bandwidth('lun_x')) / 2"}},
                      "encoding": {"y": {"field": "lvl", "type": "quantitative", "scale": {"domain": [0, 0.5], "nice": false}, "axis": null}, "text": {"field": "lab"}}
                    }
                  ],
                  "resolve": {"scale": {"xOffset": "independent"}, "axis": {"y": "independent"}}
                }
              ]
            },
            {
              "name": "hea",
              "width": 254,
              "height": 125,
              "data": {"name": "organ"},
              "transform": [{"filter": "datum.o == 'heart'"}],
              "layer": [
                {
                  "mark": {"type": "errorbar", "extent": "stdev", "ticks": {"size": 10}, "thickness": 1.4},
                  "encoding": {
                    "x": {"field": "g", "type": "nominal", "scale": {"domain": ["Control", "Lupus", "Dex Drug treated", "DW treated", "W treated"], "paddingInner": 0.337, "paddingOuter": 0.337}},
                    "y": {"field": "v", "type": "quantitative", "scale": {"domain": [0, 0.3], "nice": false}, "axis": null},
                    "color": {"field": "g", "type": "nominal", "legend": null, "scale": {"domain": ["Control", "Lupus", "Dex Drug treated", "DW treated", "W treated"], "range": ["#6e9ee3", "#a888db", "#ea9be6", "#b3da70", "#2a8db8"]}}
                  }
                },
                {
                  "mark": {"type": "bar", "strokeWidth": 1.6},
                  "encoding": {
                    "x": {"field": "g", "type": "nominal", "scale": {"domain": ["Control", "Lupus", "Dex Drug treated", "DW treated", "W treated"], "paddingInner": 0.337, "paddingOuter": 0.337}, "axis": {"title": null, "labelAngle": 0, "labelAlign": "center", "labelOverlap": false, "labelExpr": "indexof(datum.label, ' treated') > 0 ? [replace(datum.label, ' treated', ''), 'treated'] : datum.label"}},
                    "y": {"aggregate": "mean", "field": "v", "type": "quantitative", "scale": {"domain": [0, 0.3], "nice": false}, "axis": {"title": "Weight of Heart (g)", "orient": "left", "tickCount": 6, "format": ".2f", "titlePadding": 7}},
                    "fill": {"field": "g", "type": "nominal", "legend": null, "scale": {"domain": ["Control", "Lupus", "Dex Drug treated", "DW treated", "W treated"], "range": ["#bed0ee", "#d5c8eb", "#f5c8f1", "#ddedc0", "#94c3d6"]}},
                    "stroke": {"field": "g", "type": "nominal", "legend": null, "scale": {"domain": ["Control", "Lupus", "Dex Drug treated", "DW treated", "W treated"], "range": ["#3a60ab", "#6a48ad", "#a5299d", "#6ba23d", "#1d4e66"]}}
                  }
                },
                {
                  "mark": {"type": "point", "filled": true, "size": 28, "opacity": 1},
                  "encoding": {
                    "x": {"field": "g", "type": "nominal", "scale": {"domain": ["Control", "Lupus", "Dex Drug treated", "DW treated", "W treated"], "paddingInner": 0.337, "paddingOuter": 0.337}},
                    "xOffset": {"field": "rep", "type": "ordinal", "scale": {"type": "point", "padding": 0.8}},
                    "y": {"field": "v", "type": "quantitative", "scale": {"domain": [0, 0.3], "nice": false}, "axis": {"orient": "left", "tickCount": 12, "labels": false, "domain": false, "tickSize": 2.5, "title": null}},
                    "color": {"field": "g", "type": "nominal", "legend": null, "scale": {"domain": ["Control", "Lupus", "Dex Drug treated", "DW treated", "W treated"], "range": ["#6e9ee3", "#a888db", "#ea9be6", "#b3da70", "#2a8db8"]}},
                    "shape": {"field": "g", "type": "nominal", "legend": null, "scale": {"domain": ["Control", "Lupus", "Dex Drug treated", "DW treated", "W treated"], "range": ["circle", "square", "triangle-up", "triangle-down", "diamond"]}}
                  }
                },
                {
                  "data": {"name": "br"},
                  "transform": [{"filter": "datum.o == 'heart'"}],
                  "mark": {"type": "rule", "color": "#262626", "strokeWidth": 1.3,
                    "x": {"expr": "scale('hea_x', datum.g1) + bandwidth('hea_x') / 2 + 1.5"},
                    "x2": {"expr": "scale('hea_x', datum.g2) + bandwidth('hea_x') / 2 - 1.5"}},
                  "encoding": {"y": {"field": "lvl", "type": "quantitative", "scale": {"domain": [0, 0.3], "nice": false}, "axis": null}}
                },
                {
                  "data": {"name": "br"},
                  "transform": [{"filter": "datum.o == 'heart'"}],
                  "mark": {"type": "rule", "color": "#262626", "strokeWidth": 1.3, "y2Offset": 6.5,
                    "x": {"expr": "scale('hea_x', datum.g1) + bandwidth('hea_x') / 2 + 1.5"}},
                  "encoding": {"y": {"field": "lvl", "type": "quantitative", "scale": {"domain": [0, 0.3], "nice": false}, "axis": null}, "y2": {"field": "lvl"}}
                },
                {
                  "data": {"name": "br"},
                  "transform": [{"filter": "datum.o == 'heart'"}],
                  "mark": {"type": "rule", "color": "#262626", "strokeWidth": 1.3, "y2Offset": 6.5,
                    "x": {"expr": "scale('hea_x', datum.g2) + bandwidth('hea_x') / 2 - 1.5"}},
                  "encoding": {"y": {"field": "lvl", "type": "quantitative", "scale": {"domain": [0, 0.3], "nice": false}, "axis": null}, "y2": {"field": "lvl"}}
                },
                {
                  "data": {"name": "br"},
                  "transform": [{"filter": "datum.o == 'heart' && datum.lab == 'ns'"}],
                  "mark": {"type": "text", "baseline": "alphabetic", "dy": -5, "fontSize": 11.5, "color": "#4a4a4a",
                    "x": {"expr": "(scale('hea_x', datum.g1) + scale('hea_x', datum.g2) + bandwidth('hea_x')) / 2"}},
                  "encoding": {"y": {"field": "lvl", "type": "quantitative", "scale": {"domain": [0, 0.3], "nice": false}, "axis": null}, "text": {"field": "lab"}}
                },
                {
                  "data": {"name": "br"},
                  "transform": [{"filter": "datum.o == 'heart' && datum.lab != 'ns'"}],
                  "mark": {"type": "text", "baseline": "alphabetic", "dy": -1.5, "font": "DejaVu Sans", "fontWeight": "bold", "fontSize": 12, "color": "#1a1a1a",
                    "x": {"expr": "(scale('hea_x', datum.g1) + scale('hea_x', datum.g2) + bandwidth('hea_x')) / 2"}},
                  "encoding": {"y": {"field": "lvl", "type": "quantitative", "scale": {"domain": [0, 0.3], "nice": false}, "axis": null}, "text": {"field": "lab"}}
                }
              ],
              "resolve": {"scale": {"xOffset": "independent"}, "axis": {"y": "independent"}}
            }
          ]
        }
      ]
    },
    {
      "spacing": 53,
      "resolve": {"scale": {"fill": "independent", "stroke": "independent", "color": "independent", "shape": "independent", "xOffset": "independent"}},
      "hconcat": [
        {
          "spacing": 24,
          "resolve": {"scale": {"fill": "independent", "stroke": "independent", "color": "independent", "shape": "independent", "xOffset": "independent"}},
          "hconcat": [
            {"width": 1, "height": 1, "data": {"values": []}, "mark": "point"},
            {
              "name": "spl",
              "width": 265,
              "height": 125,
              "data": {"name": "organ"},
              "transform": [{"filter": "datum.o == 'spleen'"}],
              "layer": [
                {
                  "mark": {"type": "errorbar", "extent": "stdev", "ticks": {"size": 10}, "thickness": 1.4},
                  "encoding": {
                    "x": {"field": "g", "type": "nominal", "scale": {"domain": ["Control", "Lupus", "Dex Drug treated", "DW treated", "W treated"], "paddingInner": 0.34, "paddingOuter": 0.455}},
                    "y": {"field": "v", "type": "quantitative", "scale": {"domain": [0, 0.5], "nice": false}, "axis": null},
                    "color": {"field": "g", "type": "nominal", "legend": null, "scale": {"domain": ["Control", "Lupus", "Dex Drug treated", "DW treated", "W treated"], "range": ["#6e9ee3", "#a888db", "#ea9be6", "#b3da70", "#2a8db8"]}}
                  }
                },
                {
                  "mark": {"type": "bar", "strokeWidth": 1.6},
                  "encoding": {
                    "x": {"field": "g", "type": "nominal", "scale": {"domain": ["Control", "Lupus", "Dex Drug treated", "DW treated", "W treated"], "paddingInner": 0.34, "paddingOuter": 0.455}, "axis": {"title": null, "labelAngle": 0, "labelAlign": "center", "labelOverlap": false, "labelExpr": "indexof(datum.label, ' treated') > 0 ? [replace(datum.label, ' treated', ''), 'treated'] : datum.label"}},
                    "y": {"aggregate": "mean", "field": "v", "type": "quantitative", "scale": {"domain": [0, 0.5], "nice": false}, "axis": {"title": "Weight of Spleen (g)", "orient": "left", "tickCount": 10, "format": ".2f", "titlePadding": 0}},
                    "fill": {"field": "g", "type": "nominal", "legend": null, "scale": {"domain": ["Control", "Lupus", "Dex Drug treated", "DW treated", "W treated"], "range": ["#bed0ee", "#d5c8eb", "#f5c8f1", "#ddedc0", "#94c3d6"]}},
                    "stroke": {"field": "g", "type": "nominal", "legend": null, "scale": {"domain": ["Control", "Lupus", "Dex Drug treated", "DW treated", "W treated"], "range": ["#3a60ab", "#6a48ad", "#a5299d", "#6ba23d", "#1d4e66"]}}
                  }
                },
                {
                  "mark": {"type": "point", "filled": true, "size": 28, "opacity": 1},
                  "encoding": {
                    "x": {"field": "g", "type": "nominal", "scale": {"domain": ["Control", "Lupus", "Dex Drug treated", "DW treated", "W treated"], "paddingInner": 0.34, "paddingOuter": 0.455}},
                    "xOffset": {"field": "rep", "type": "ordinal", "scale": {"type": "point", "padding": 0.8}},
                    "y": {"field": "v", "type": "quantitative", "scale": {"domain": [0, 0.5], "nice": false}, "axis": {"orient": "left", "tickCount": 20, "labels": false, "domain": false, "tickSize": 2.5, "title": null}},
                    "color": {"field": "g", "type": "nominal", "legend": null, "scale": {"domain": ["Control", "Lupus", "Dex Drug treated", "DW treated", "W treated"], "range": ["#6e9ee3", "#a888db", "#ea9be6", "#b3da70", "#2a8db8"]}},
                    "shape": {"field": "g", "type": "nominal", "legend": null, "scale": {"domain": ["Control", "Lupus", "Dex Drug treated", "DW treated", "W treated"], "range": ["circle", "square", "triangle-up", "triangle-down", "diamond"]}}
                  }
                },
                {
                  "data": {"name": "br"},
                  "transform": [{"filter": "datum.o == 'spleen'"}],
                  "mark": {"type": "rule", "color": "#262626", "strokeWidth": 1.3,
                    "x": {"expr": "scale('spl_x', datum.g1) + bandwidth('spl_x') / 2 + 1.5"},
                    "x2": {"expr": "scale('spl_x', datum.g2) + bandwidth('spl_x') / 2 - 1.5"}},
                  "encoding": {"y": {"field": "lvl", "type": "quantitative", "scale": {"domain": [0, 0.5], "nice": false}, "axis": null}}
                },
                {
                  "data": {"name": "br"},
                  "transform": [{"filter": "datum.o == 'spleen'"}],
                  "mark": {"type": "rule", "color": "#262626", "strokeWidth": 1.3, "y2Offset": 6.5,
                    "x": {"expr": "scale('spl_x', datum.g1) + bandwidth('spl_x') / 2 + 1.5"}},
                  "encoding": {"y": {"field": "lvl", "type": "quantitative", "scale": {"domain": [0, 0.5], "nice": false}, "axis": null}, "y2": {"field": "lvl"}}
                },
                {
                  "data": {"name": "br"},
                  "transform": [{"filter": "datum.o == 'spleen'"}],
                  "mark": {"type": "rule", "color": "#262626", "strokeWidth": 1.3, "y2Offset": 6.5,
                    "x": {"expr": "scale('spl_x', datum.g2) + bandwidth('spl_x') / 2 - 1.5"}},
                  "encoding": {"y": {"field": "lvl", "type": "quantitative", "scale": {"domain": [0, 0.5], "nice": false}, "axis": null}, "y2": {"field": "lvl"}}
                },
                {
                  "data": {"name": "br"},
                  "transform": [{"filter": "datum.o == 'spleen' && datum.lab == 'ns'"}],
                  "mark": {"type": "text", "baseline": "alphabetic", "dy": -5, "fontSize": 11.5, "color": "#4a4a4a",
                    "x": {"expr": "(scale('spl_x', datum.g1) + scale('spl_x', datum.g2) + bandwidth('spl_x')) / 2"}},
                  "encoding": {"y": {"field": "lvl", "type": "quantitative", "scale": {"domain": [0, 0.5], "nice": false}, "axis": null}, "text": {"field": "lab"}}
                },
                {
                  "data": {"name": "br"},
                  "transform": [{"filter": "datum.o == 'spleen' && datum.lab != 'ns'"}],
                  "mark": {"type": "text", "baseline": "alphabetic", "dy": -1.5, "font": "DejaVu Sans", "fontWeight": "bold", "fontSize": 12, "color": "#1a1a1a",
                    "x": {"expr": "(scale('spl_x', datum.g1) + scale('spl_x', datum.g2) + bandwidth('spl_x')) / 2"}},
                  "encoding": {"y": {"field": "lvl", "type": "quantitative", "scale": {"domain": [0, 0.5], "nice": false}, "axis": null}, "text": {"field": "lab"}}
                }
              ],
              "resolve": {"scale": {"xOffset": "independent"}, "axis": {"y": "independent"}}
            }
          ]
        },
        {
          "name": "idx",
          "width": 258,
          "height": 126,
          "data": {"name": "organ"},
          "transform": [{"filter": "datum.o == 'index'"}],
          "layer": [
            {
              "mark": {"type": "bar", "strokeWidth": 2},
              "encoding": {
                "x": {"field": "g", "type": "nominal", "scale": {"domain": ["Control", "Lupus", "Dex Drug treated", "DW treated", "W treated"], "paddingInner": 0.34, "paddingOuter": 0.31}, "axis": {"title": null, "labelAngle": 0, "labelAlign": "center", "labelOverlap": false, "labelExpr": "indexof(datum.label, ' treated') > 0 ? [replace(datum.label, ' treated', ''), 'treated'] : datum.label"}},
                "y": {"aggregate": "mean", "field": "v", "type": "quantitative", "scale": {"domain": [0, 4], "nice": false}, "axis": {"title": "Splenic index (%)", "orient": "left", "tickCount": 8, "format": ".1f", "titlePadding": 3}},
                "fill": {"field": "g", "type": "nominal", "legend": null, "scale": {"domain": ["Control", "Lupus", "Dex Drug treated", "DW treated", "W treated"], "range": ["#bed0ee", "#d5c8eb", "#f5c8f1", "#ddedc0", "#94c3d6"]}},
                "stroke": {"field": "g", "type": "nominal", "legend": null, "scale": {"domain": ["Control", "Lupus", "Dex Drug treated", "DW treated", "W treated"], "range": ["#3a60ab", "#6a48ad", "#a5299d", "#6ba23d", "#1d4e66"]}}
              }
            },
            {
              "mark": {"type": "errorbar", "extent": "stdev", "ticks": {"size": 12}, "thickness": 1.4},
              "encoding": {
                "x": {"field": "g", "type": "nominal", "scale": {"domain": ["Control", "Lupus", "Dex Drug treated", "DW treated", "W treated"], "paddingInner": 0.34, "paddingOuter": 0.31}},
                "y": {"field": "v", "type": "quantitative", "scale": {"domain": [0, 4], "nice": false}, "axis": null},
                "stroke": {"field": "g", "type": "nominal", "legend": null, "scale": {"domain": ["Control", "Lupus", "Dex Drug treated", "DW treated", "W treated"], "range": ["#3a60ab", "#6a48ad", "#a5299d", "#6ba23d", "#1d4e66"]}}
              }
            },
            {
              "mark": {"type": "point", "filled": true, "size": 28, "opacity": 1},
              "encoding": {
                "x": {"field": "g", "type": "nominal", "scale": {"domain": ["Control", "Lupus", "Dex Drug treated", "DW treated", "W treated"], "paddingInner": 0.34, "paddingOuter": 0.31}},
                "xOffset": {"field": "rep", "type": "ordinal", "scale": {"type": "point", "padding": 0.8}},
                "y": {"field": "v", "type": "quantitative", "scale": {"domain": [0, 4], "nice": false}, "axis": {"orient": "left", "tickCount": 16, "labels": false, "domain": false, "tickSize": 2.5, "title": null}},
                "color": {"field": "g", "type": "nominal", "legend": null, "scale": {"domain": ["Control", "Lupus", "Dex Drug treated", "DW treated", "W treated"], "range": ["#6e9ee3", "#a888db", "#ea9be6", "#b3da70", "#2a8db8"]}},
                "shape": {"field": "g", "type": "nominal", "legend": null, "scale": {"domain": ["Control", "Lupus", "Dex Drug treated", "DW treated", "W treated"], "range": ["circle", "square", "triangle-up", "triangle-down", "diamond"]}}
              }
            },
            {
              "data": {"name": "br"},
              "transform": [{"filter": "datum.o == 'index'"}],
              "mark": {"type": "rule", "color": "#262626", "strokeWidth": 1.3,
                "x": {"expr": "scale('idx_x', datum.g1) + bandwidth('idx_x') / 2 + 1.5"},
                "x2": {"expr": "scale('idx_x', datum.g2) + bandwidth('idx_x') / 2 - 1.5"}},
              "encoding": {"y": {"field": "lvl", "type": "quantitative", "scale": {"domain": [0, 4], "nice": false}, "axis": null}}
            },
            {
              "data": {"name": "br"},
              "transform": [{"filter": "datum.o == 'index'"}],
              "mark": {"type": "rule", "color": "#262626", "strokeWidth": 1.3, "y2Offset": 6.5,
                "x": {"expr": "scale('idx_x', datum.g1) + bandwidth('idx_x') / 2 + 1.5"}},
              "encoding": {"y": {"field": "lvl", "type": "quantitative", "scale": {"domain": [0, 4], "nice": false}, "axis": null}, "y2": {"field": "lvl"}}
            },
            {
              "data": {"name": "br"},
              "transform": [{"filter": "datum.o == 'index'"}],
              "mark": {"type": "rule", "color": "#262626", "strokeWidth": 1.3, "y2Offset": 6.5,
                "x": {"expr": "scale('idx_x', datum.g2) + bandwidth('idx_x') / 2 - 1.5"}},
              "encoding": {"y": {"field": "lvl", "type": "quantitative", "scale": {"domain": [0, 4], "nice": false}, "axis": null}, "y2": {"field": "lvl"}}
            },
            {
              "data": {"name": "br"},
              "transform": [{"filter": "datum.o == 'index' && datum.lab == 'ns'"}],
              "mark": {"type": "text", "baseline": "alphabetic", "dy": -5, "fontSize": 11.5, "color": "#4a4a4a",
                "x": {"expr": "(scale('idx_x', datum.g1) + scale('idx_x', datum.g2) + bandwidth('idx_x')) / 2"}},
              "encoding": {"y": {"field": "lvl", "type": "quantitative", "scale": {"domain": [0, 4], "nice": false}, "axis": null}, "text": {"field": "lab"}}
            },
            {
              "data": {"name": "br"},
              "transform": [{"filter": "datum.o == 'index' && datum.lab != 'ns'"}],
              "mark": {"type": "text", "baseline": "alphabetic", "dy": -1.5, "font": "DejaVu Sans", "fontWeight": "bold", "fontSize": 12, "color": "#1a1a1a",
                "x": {"expr": "(scale('idx_x', datum.g1) + scale('idx_x', datum.g2) + bandwidth('idx_x')) / 2"}},
              "encoding": {"y": {"field": "lvl", "type": "quantitative", "scale": {"domain": [0, 4], "nice": false}, "axis": null}, "text": {"field": "lab"}}
            }
          ],
          "resolve": {"scale": {"xOffset": "independent"}, "axis": {"y": "independent"}}
        }
      ]
    }
  ]
}
